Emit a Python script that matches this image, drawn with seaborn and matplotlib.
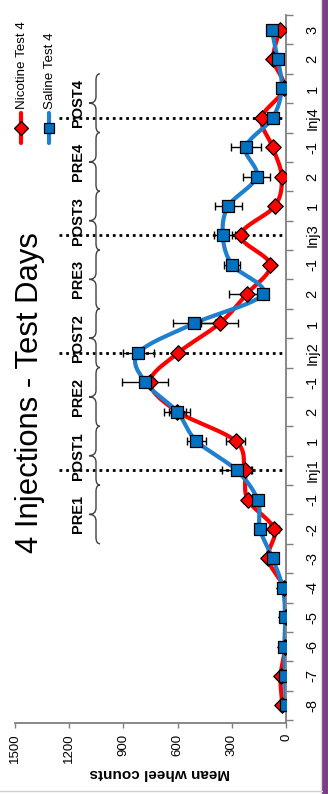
import numpy as np
import matplotlib
matplotlib.use("Agg")
import matplotlib.pyplot as plt
from matplotlib.path import Path
from matplotlib.patches import PathPatch, Rectangle
import matplotlib.transforms as mtransforms
import seaborn as sns

# ---- data -------------------------------------------------------------
days = ['-8', '-7', '-6', '-5', '-4', '-3', '-2', '-1', 'Inj1', '1', '2',
        '-1', 'Inj2', '1', '2', '-1', 'Inj3', '1', '2', '-1', 'Inj4', '1', '2', '3']

nicotine = [20, 30, 3, 2, 12, 100, 65, 212, 229, 279, 601, 753, 597, 368,
            218, 87, 251, 61, 24, 74, 135, 11, 70, 33]
nicotine_sem = [5, 5, 3, 3, 5, 10, 28, 18, 40, 53, 45, 20, 15, 100,
                96, 10, 30, 10, 8, 20, 15, 5, 10, 8]

saline = [2, 6, 9, 5, 18, 74, 144, 157, 273, 496, 603, 779, 817, 509,
          128, 299, 350, 319, 162, 223, 74, 24, 46, 79]
saline_sem = [5, 5, 5, 5, 8, 12, 25, 20, 80, 52, 70, 127, 84, 115,
              20, 45, 50, 74, 76, 82, 15, 8, 10, 15]

phases = ['PRE1', 'POST1', 'PRE2', 'POST2', 'PRE3', 'POST3', 'PRE4', 'POST4']
value_ticks = [0, 300, 600, 900, 1200, 1500]

series_names = ['Nicotine Test 4', 'Saline Test 4']
RED = '#ff0000'
BLUE_LINE = '#1f80cf'
BLUE_MARK = '#0070c0'

# ---- figure -----------------------------------------------------------
sns.set_theme(style='white')
plt.rcParams['font.family'] = ['Liberation Sans', 'DejaVu Sans']

W, H = 328, 794
fig = plt.figure(figsize=(W / 100, H / 100), dpi=100)
fig.patch.set_facecolor('white')

ax_l, ax_r, ax_t, ax_b = 15, 286, 15, 723
ax = fig.add_axes([ax_l / W, 1 - ax_b / H, (ax_r - ax_l) / W, (ax_b - ax_t) / H])
ax.set_facecolor('white')

pos = np.arange(len(days))
ax.set_xlim(1500, 0)
ax.set_ylim(-0.6, len(days) - 1 + 0.17)


def smooth_curve(vals, idx, n=24):
    """Excel-style smoothed line: cubic Bezier segments with Catmull-Rom handles."""
    P = np.column_stack([np.asarray(vals, float), np.asarray(idx, float)])
    Pe = np.vstack([P[0], P, P[-1]])
    t = np.linspace(0, 1, n)[:, None]
    out = []
    for k in range(len(P) - 1):
        p0, p1, p2, p3 = Pe[k], Pe[k + 1], Pe[k + 2], Pe[k + 3]
        b1 = p1 + (p2 - p0) / 6.0
        b2 = p2 - (p3 - p1) / 6.0
        seg = ((1 - t) ** 3) * p1 + 3 * ((1 - t) ** 2) * t * b1 + \
              3 * (1 - t) * t ** 2 * b2 + t ** 3 * p2
        out.append(seg if k == 0 else seg[1:])
    c = np.vstack(out)
    return c[:, 0], c[:, 1]


# injection reference lines
gray = '#7f7f7f'
for i, d in enumerate(days):
    if d.startswith('Inj'):
        ax.axhline(i, xmin=(59 - ax_l) / (ax_r - ax_l), xmax=1.0, color='black',
                   lw=2.0, ls=(0, (1, 1.4)), zorder=1)

# smoothed series lines
for vals, col in [(nicotine, RED), (saline, BLUE_LINE)]:
    cx, cy = smooth_curve(vals, pos)
    ax.plot(cx, cy, color=col, lw=3.0, solid_capstyle='round', zorder=2)

# error bars
for vals, err in [(nicotine, nicotine_sem), (saline, saline_sem)]:
    ax.errorbar(vals, pos, xerr=err, fmt='none', ecolor='black', elinewidth=1.0,
                capsize=2.8, capthick=1.0, zorder=3)

# markers
sns.scatterplot(x=nicotine, y=pos, marker='D', s=62, color=RED,
                edgecolor='black', linewidth=0.9, zorder=4, ax=ax, legend=False)
sns.scatterplot(x=saline, y=pos, marker='s', s=64, color=BLUE_MARK,
                edgecolor='black', linewidth=0.9, zorder=5, ax=ax, legend=False)

# axes styling
for s in ['left', 'top']:
    ax.spines[s].set_visible(False)
for s in ['right', 'bottom']:
    ax.spines[s].set_visible(True)
    ax.spines[s].set_color(gray)
    ax.spines[s].set_linewidth(1.3)
ax.grid(False)

ax.set_xticks(value_ticks)
ax.set_xticklabels([str(v) for v in value_ticks], rotation=90, fontsize=9.5,
                   color='black')
ax.tick_params(axis='x', bottom=True, direction='out', length=3.5, width=1.0,
               color=gray, pad=4)

ax.yaxis.tick_right()
ax.set_yticks(np.arange(-0.5, len(days), 1.0))
ax.set_yticklabels([])
ax.set_yticks(pos, minor=True)
ax.set_yticklabels(days, minor=True, rotation=90, fontsize=10.5, va='center',
                   ha='left', color='black')
ax.tick_params(axis='y', which='major', right=True, left=False, direction='out',
               length=5, width=1.0, color=gray)
ax.tick_params(axis='y', which='minor', right=True, left=False, length=0, pad=14)
ax.set_xlabel('')
ax.set_ylabel('')

# phase braces and labels
trans = mtransforms.blended_transform_factory(ax.transAxes, ax.transData)
fx = lambda px: (px - ax_l) / (ax_r - ax_l)
x_end, x_body, x_tip = fx(100), fx(96), fx(89)
x_lab = fx(78)
d = 0.22


def brace(y0, y1):
    ym = (y0 + y1) / 2.0
    verts = [(x_end, y0), (x_body, y0), (x_body, y0 + d),
             (x_body, ym - d),
             (x_body, ym), (x_tip, ym),
             (x_body, ym), (x_body, ym + d),
             (x_body, y1 - d),
             (x_body, y1), (x_end, y1)]
    codes = [Path.MOVETO, Path.CURVE3, Path.CURVE3,
             Path.LINETO,
             Path.CURVE3, Path.CURVE3,
             Path.CURVE3, Path.CURVE3,
             Path.LINETO,
             Path.CURVE3, Path.CURVE3]
    ax.add_patch(PathPatch(Path(verts, codes), transform=trans, fill=False,
                           edgecolor='#404040', lw=1.0, zorder=1))


start = days.index('Inj1') - 2.5
for k, name in enumerate(phases):
    y0 = start + 2 * k
    brace(y0, y0 + 2)
    ax.text(x_lab, y0 + 1, name, transform=trans, rotation=90, ha='center',
            va='center', fontsize=10.5, fontweight='bold', color='black', zorder=6)

# title and axis title
fig.text(30 / W, 1 - 393 / H, '4 Injections - Test Days', rotation=90,
         ha='center', va='center', fontsize=22.3, color='black')
fig.text(160 / W, 1 - 773 / H, 'Mean wheel counts', rotation=180,
         ha='center', va='center', fontsize=11, fontweight='bold', color='black')

# legend drawn vertically in the upper left corner
for xpx, col, mk, name in [(21, RED, 'D', series_names[0]),
                           (49, BLUE_LINE, 's', series_names[1])]:
    xf = xpx / W
    fig.add_artist(plt.Line2D([xf, xf], [1 - 113 / H, 1 - 143 / H], color=col,
                              lw=3.0, transform=fig.transFigure))
    fig.add_artist(plt.Line2D([xf], [1 - 128 / H], marker=mk, markersize=7.5 if mk == 'D' else 7.8,
                              markerfacecolor=RED if mk == 'D' else BLUE_MARK,
                              markeredgecolor='black', markeredgewidth=0.9,
                              lw=0, transform=fig.transFigure))
    fig.text(xf + 1 / W, 1 - 109 / H, name, rotation=90, ha='center', va='bottom',
             fontsize=9.6, color='black')

# frame edges
fig.add_artist(Rectangle((322 / W, 0), 6 / W, 1, transform=fig.transFigure,
                         facecolor='#7b3c88', edgecolor='none'))
fig.add_artist(plt.Line2D([0, 322 / W], [1 - 790.5 / H] * 2, color='#d0d0d0', lw=1.0,
                          transform=fig.transFigure))
fig.add_artist(plt.Line2D([321 / W] * 2, [0, 1], color='#d8d8d8', lw=1.0,
                          transform=fig.transFigure))

fig.savefig('out.png', dpi=100, facecolor='white')
